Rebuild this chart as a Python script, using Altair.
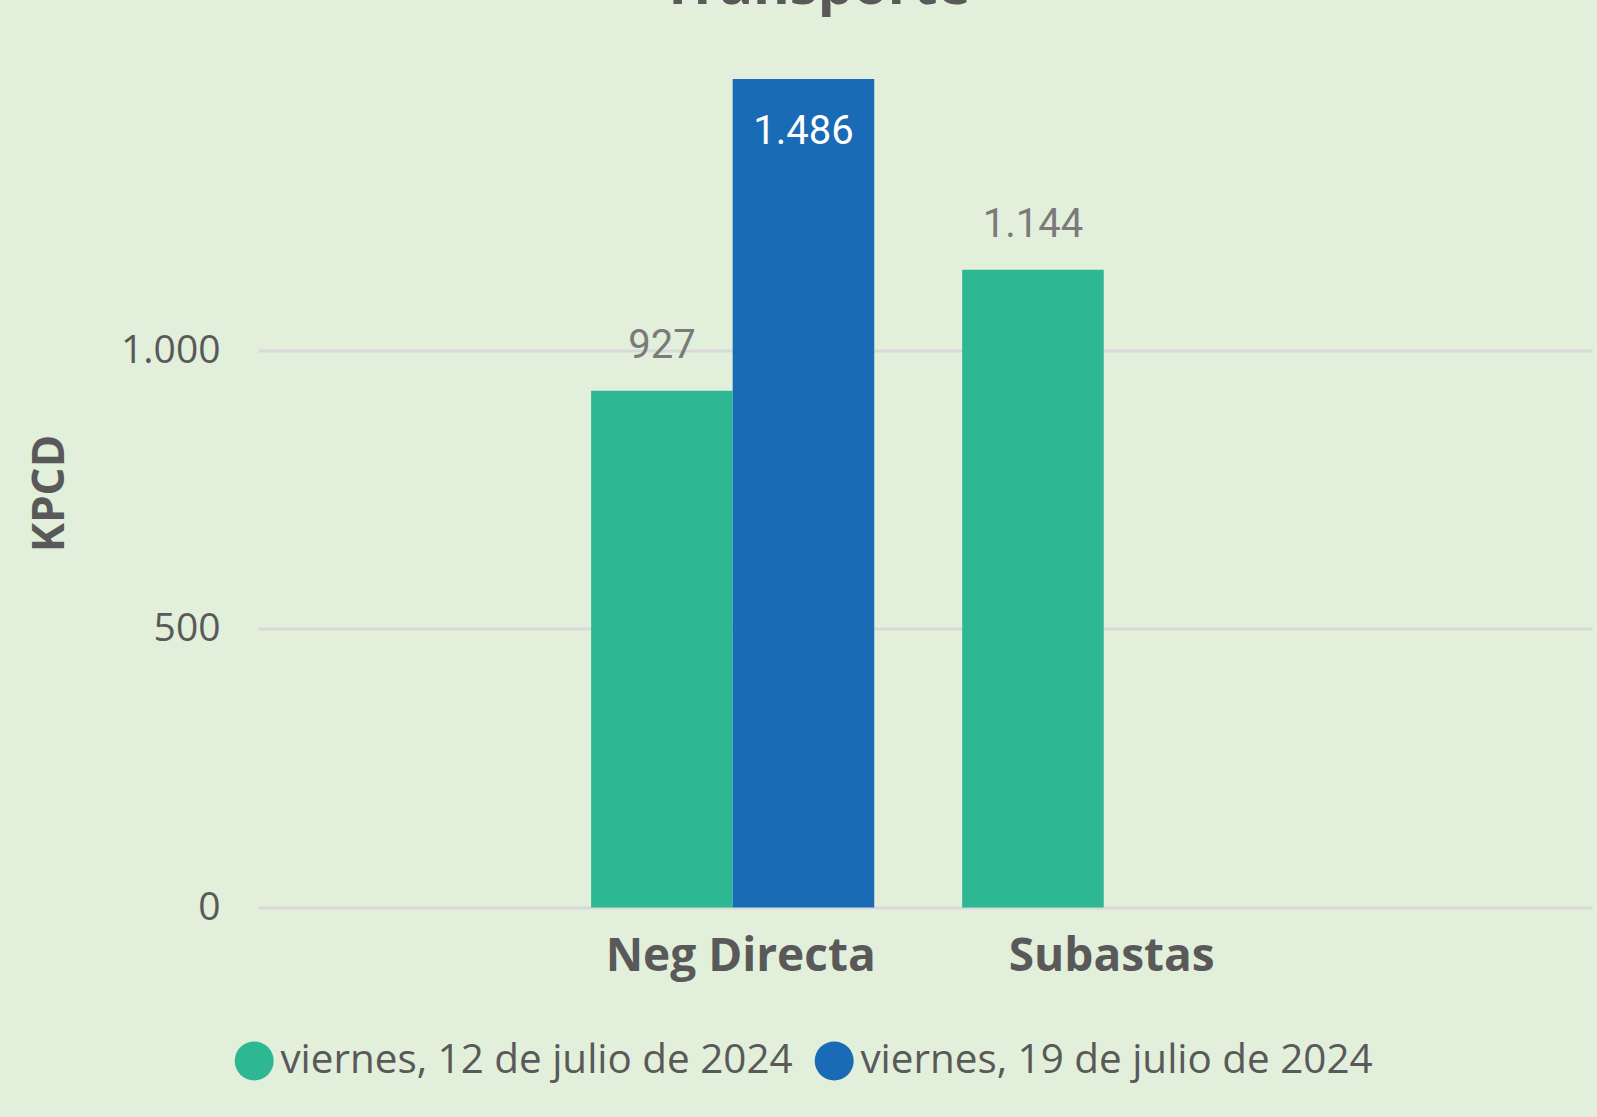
import altair as alt
import pandas as pd

title_text = "Transporte"
categories = ["Neg Directa", "Neg Directa", "Subastas"]
series = ["viernes, 12 de julio de 2024", "viernes, 19 de julio de 2024", "viernes, 12 de julio de 2024"]
values = [927, 1486, 1144]
category_order = ["Neg Directa", "Subastas"]
series_order = ["viernes, 12 de julio de 2024", "viernes, 19 de julio de 2024"]
colors = ["#2DB893", "#1A6BB5"]
y_ticks = [0, 500, 1000]

df = pd.DataFrame({"cat": categories, "serie": series, "valor": values})

GRAY = "#595959"
FONT = "Open Sans"

base = alt.Chart(df).encode(
    x=alt.X(
        "cat:N",
        sort=category_order,
        scale=alt.Scale(domain=category_order, paddingInner=0.237, paddingOuter=0.916, align=0.49),
        axis=alt.Axis(
            title=None, labelAngle=0, domain=False, ticks=False, grid=False,
            labelFont=FONT, labelFontSize=46, labelFontWeight="bold", labelColor=GRAY,
            labelPadding=27, labelOffset=8, labelLimit=1000,
        ),
    ),
    xOffset=alt.XOffset("serie:N", sort=series_order, scale=alt.Scale(domain=series_order)),
    y=alt.Y(
        "valor:Q",
        scale=alt.Scale(domain=[0, 1600], nice=False, zero=True),
        axis=alt.Axis(
            values=y_ticks, domain=False, ticks=False, grid=True,
            gridColor="#D9D9D9", gridWidth=3,
            labelFont=FONT, labelFontSize=39, labelColor=GRAY, labelPadding=38,
            labelExpr="replace(datum.label, ',', '.')",
            title="KPCD", titleFont=FONT, titleFontSize=44, titleFontWeight="bold",
            titleColor=GRAY, titleAngle=270, titleX=-208, titleY=477.5,
            titleAlign="center", titleBaseline="middle",
        ),
    ),
)

bars = base.mark_bar().encode(
    color=alt.Color(
        "serie:N",
        scale=alt.Scale(domain=series_order, range=colors),
        legend=alt.Legend(
            title=None, orient="none", direction="horizontal",
            legendX=-24, legendY=1025,
            symbolType="circle", symbolSize=1521, symbolStrokeWidth=0, symbolOpacity=1,
            labelFont=FONT, labelFontSize=40.4, labelColor=GRAY, labelLimit=1000,
            labelOffset=6, columnPadding=21, padding=0,
        ),
    )
)

labeled = base.transform_calculate(
    lbl="replace(format(datum.valor, ','), ',', '.')"
)

outside = labeled.transform_filter("datum.valor < 1400").mark_text(
    font="Roboto", fontSize=40, color="#7A7A7A", baseline="alphabetic", dy=-33
).encode(text="lbl:N")

inside = labeled.transform_filter("datum.valor >= 1400").mark_text(
    font="Roboto", fontSize=40, color="#FFFFFF", baseline="alphabetic", dy=65
).encode(text="lbl:N")

title_mark = alt.Chart(pd.DataFrame({"t": [title_text]})).mark_text(
    font=FONT, fontSize=56, fontWeight="bold", color=GRAY,
    align="center", baseline="alphabetic",
).encode(text="t:N", x=alt.value(558), y=alt.value(-11.5))

chart = alt.layer(bars, outside, inside, title_mark).properties(
    width=1334,
    height=892,
    padding={"left": 258, "top": 15.5, "right": 5, "bottom": 209.5},
    autosize=alt.AutoSizeParams(type="none"),
    background="#E2EFDA",
).configure_view(stroke=None)

chart.save("out.html", embed_options={"renderer": "svg", "actions": False})
